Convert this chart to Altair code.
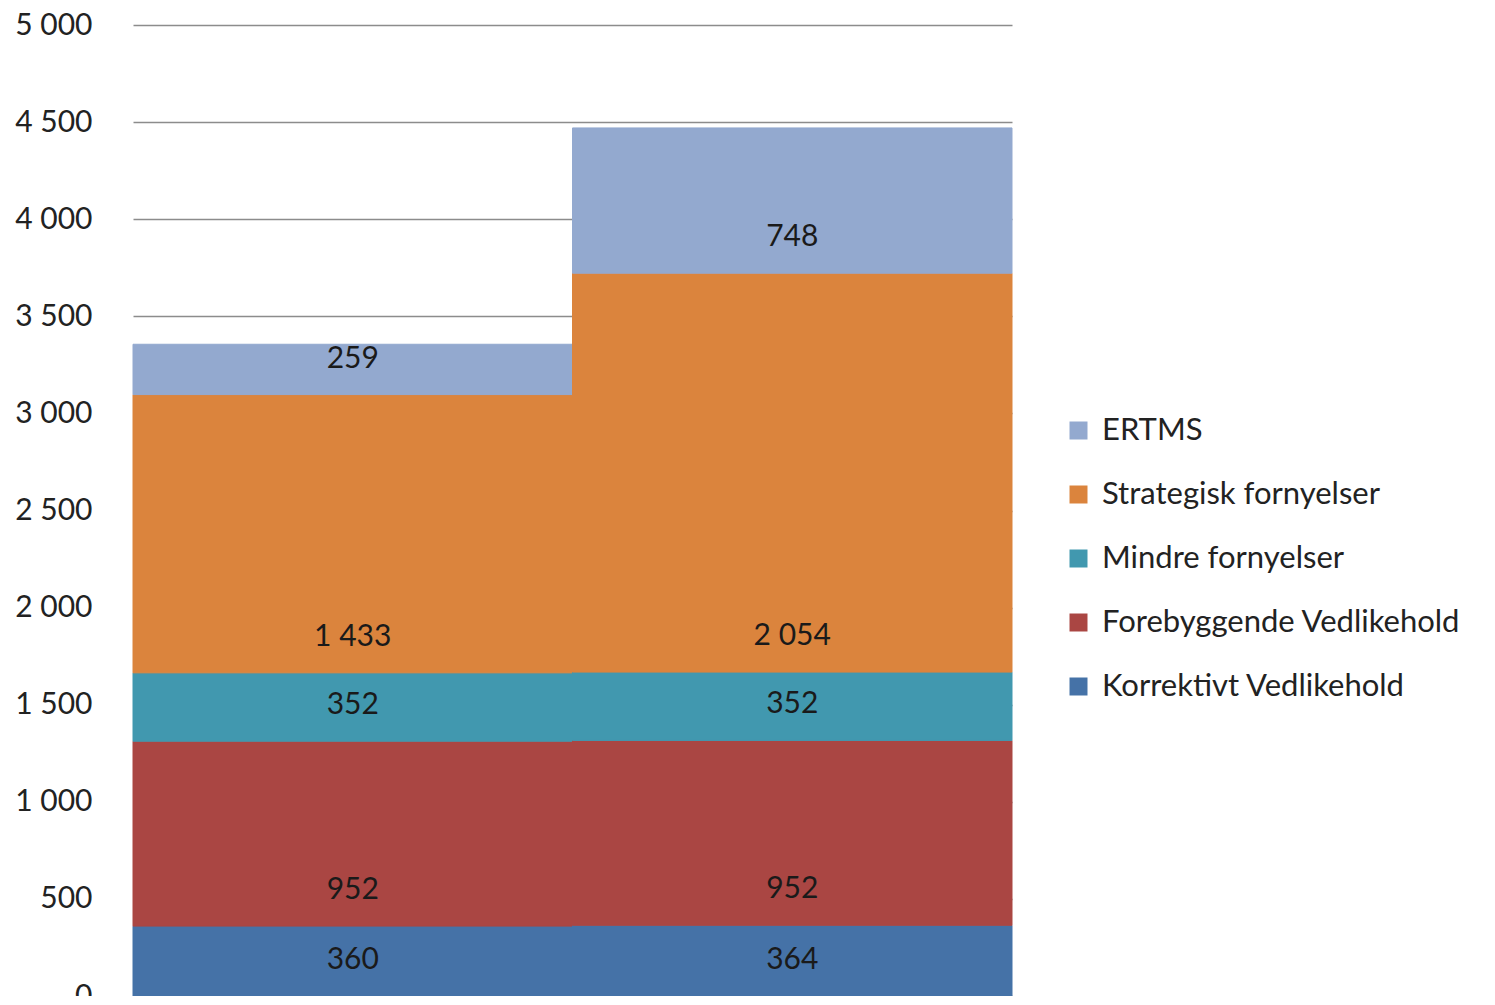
import altair as alt
import pandas as pd

categories = ["A", "B"]
series = ["Korrektivt Vedlikehold", "Forebyggende Vedlikehold", "Mindre fornyelser",
          "Strategisk fornyelser", "ERTMS"]
values_a = [360, 952, 352, 1433, 259]
values_b = [364, 952, 352, 2054, 748]
colors = ["#4572A7", "#AA4643", "#4198AF", "#DB843D", "#93A9CF"]
y_ticks = list(range(0, 5001, 500))

rows = []
for cat, vals in zip(categories, [values_a, values_b]):
    for i, (s, v) in enumerate(zip(series, vals)):
        rows.append({"cat": cat, "series": s, "value": v, "idx": i})
df = pd.DataFrame(rows)

FONT = "Lato"

color_scale = alt.Scale(domain=series[::-1], range=colors[::-1])

base = alt.Chart(df).transform_stack(
    stack="value", groupby=["cat"], as_=["y0", "y1"],
    sort=[alt.SortField("idx", order="ascending")]
).transform_calculate(
    label="replace(format(datum.value, ','), ',', ' ')"
)

x = alt.X("cat:N", title=None,
          scale=alt.Scale(paddingInner=0, paddingOuter=0),
          axis=alt.Axis(labels=False, ticks=False, domain=True, domainColor="#a0a0a0",
                        domainWidth=1.5))

bars = base.mark_bar(strokeWidth=1).encode(
    x=x,
    y=alt.Y("y0:Q", title=None,
            scale=alt.Scale(domain=[0, 5000], nice=False),
            axis=alt.Axis(values=y_ticks, grid=True, gridColor="#8c8c8c", gridWidth=1.5,
                          domain=False, ticks=False, labelPadding=41,
                          labelFontSize=30, labelFont=FONT, labelColor="#222222",
                          labelExpr="replace(format(datum.value, ','), ',', ' ')")),
    y2="y1:Q",
    color=alt.Color("series:N", scale=color_scale,
                    legend=alt.Legend(title=None, orient="none", legendX=930, legendY=390,
                                      labelFontSize=31, labelFont=FONT, labelColor="#222222",
                                      symbolType="square", symbolSize=324,
                                      symbolStrokeWidth=0, rowPadding=32,
                                      labelOffset=8, labelLimit=600)),
    stroke=alt.Stroke("series:N", scale=color_scale, legend=None),
)

text = base.mark_text(fontSize=30, font=FONT, color="#1a1a1a", baseline="middle",
                      dy=-36).encode(
    x=alt.X("cat:N"),
    y=alt.Y("y0:Q"),
    text="label:N",
)

chart = (bars + text).properties(
    width=879, height=971,
    autosize=alt.AutoSizeParams(type="none"),
    padding={"left": 125, "top": 17, "right": 470, "bottom": 0},
).configure_view(stroke=None)

chart.save("out.html", embed_options={"renderer": "svg", "actions": False})
